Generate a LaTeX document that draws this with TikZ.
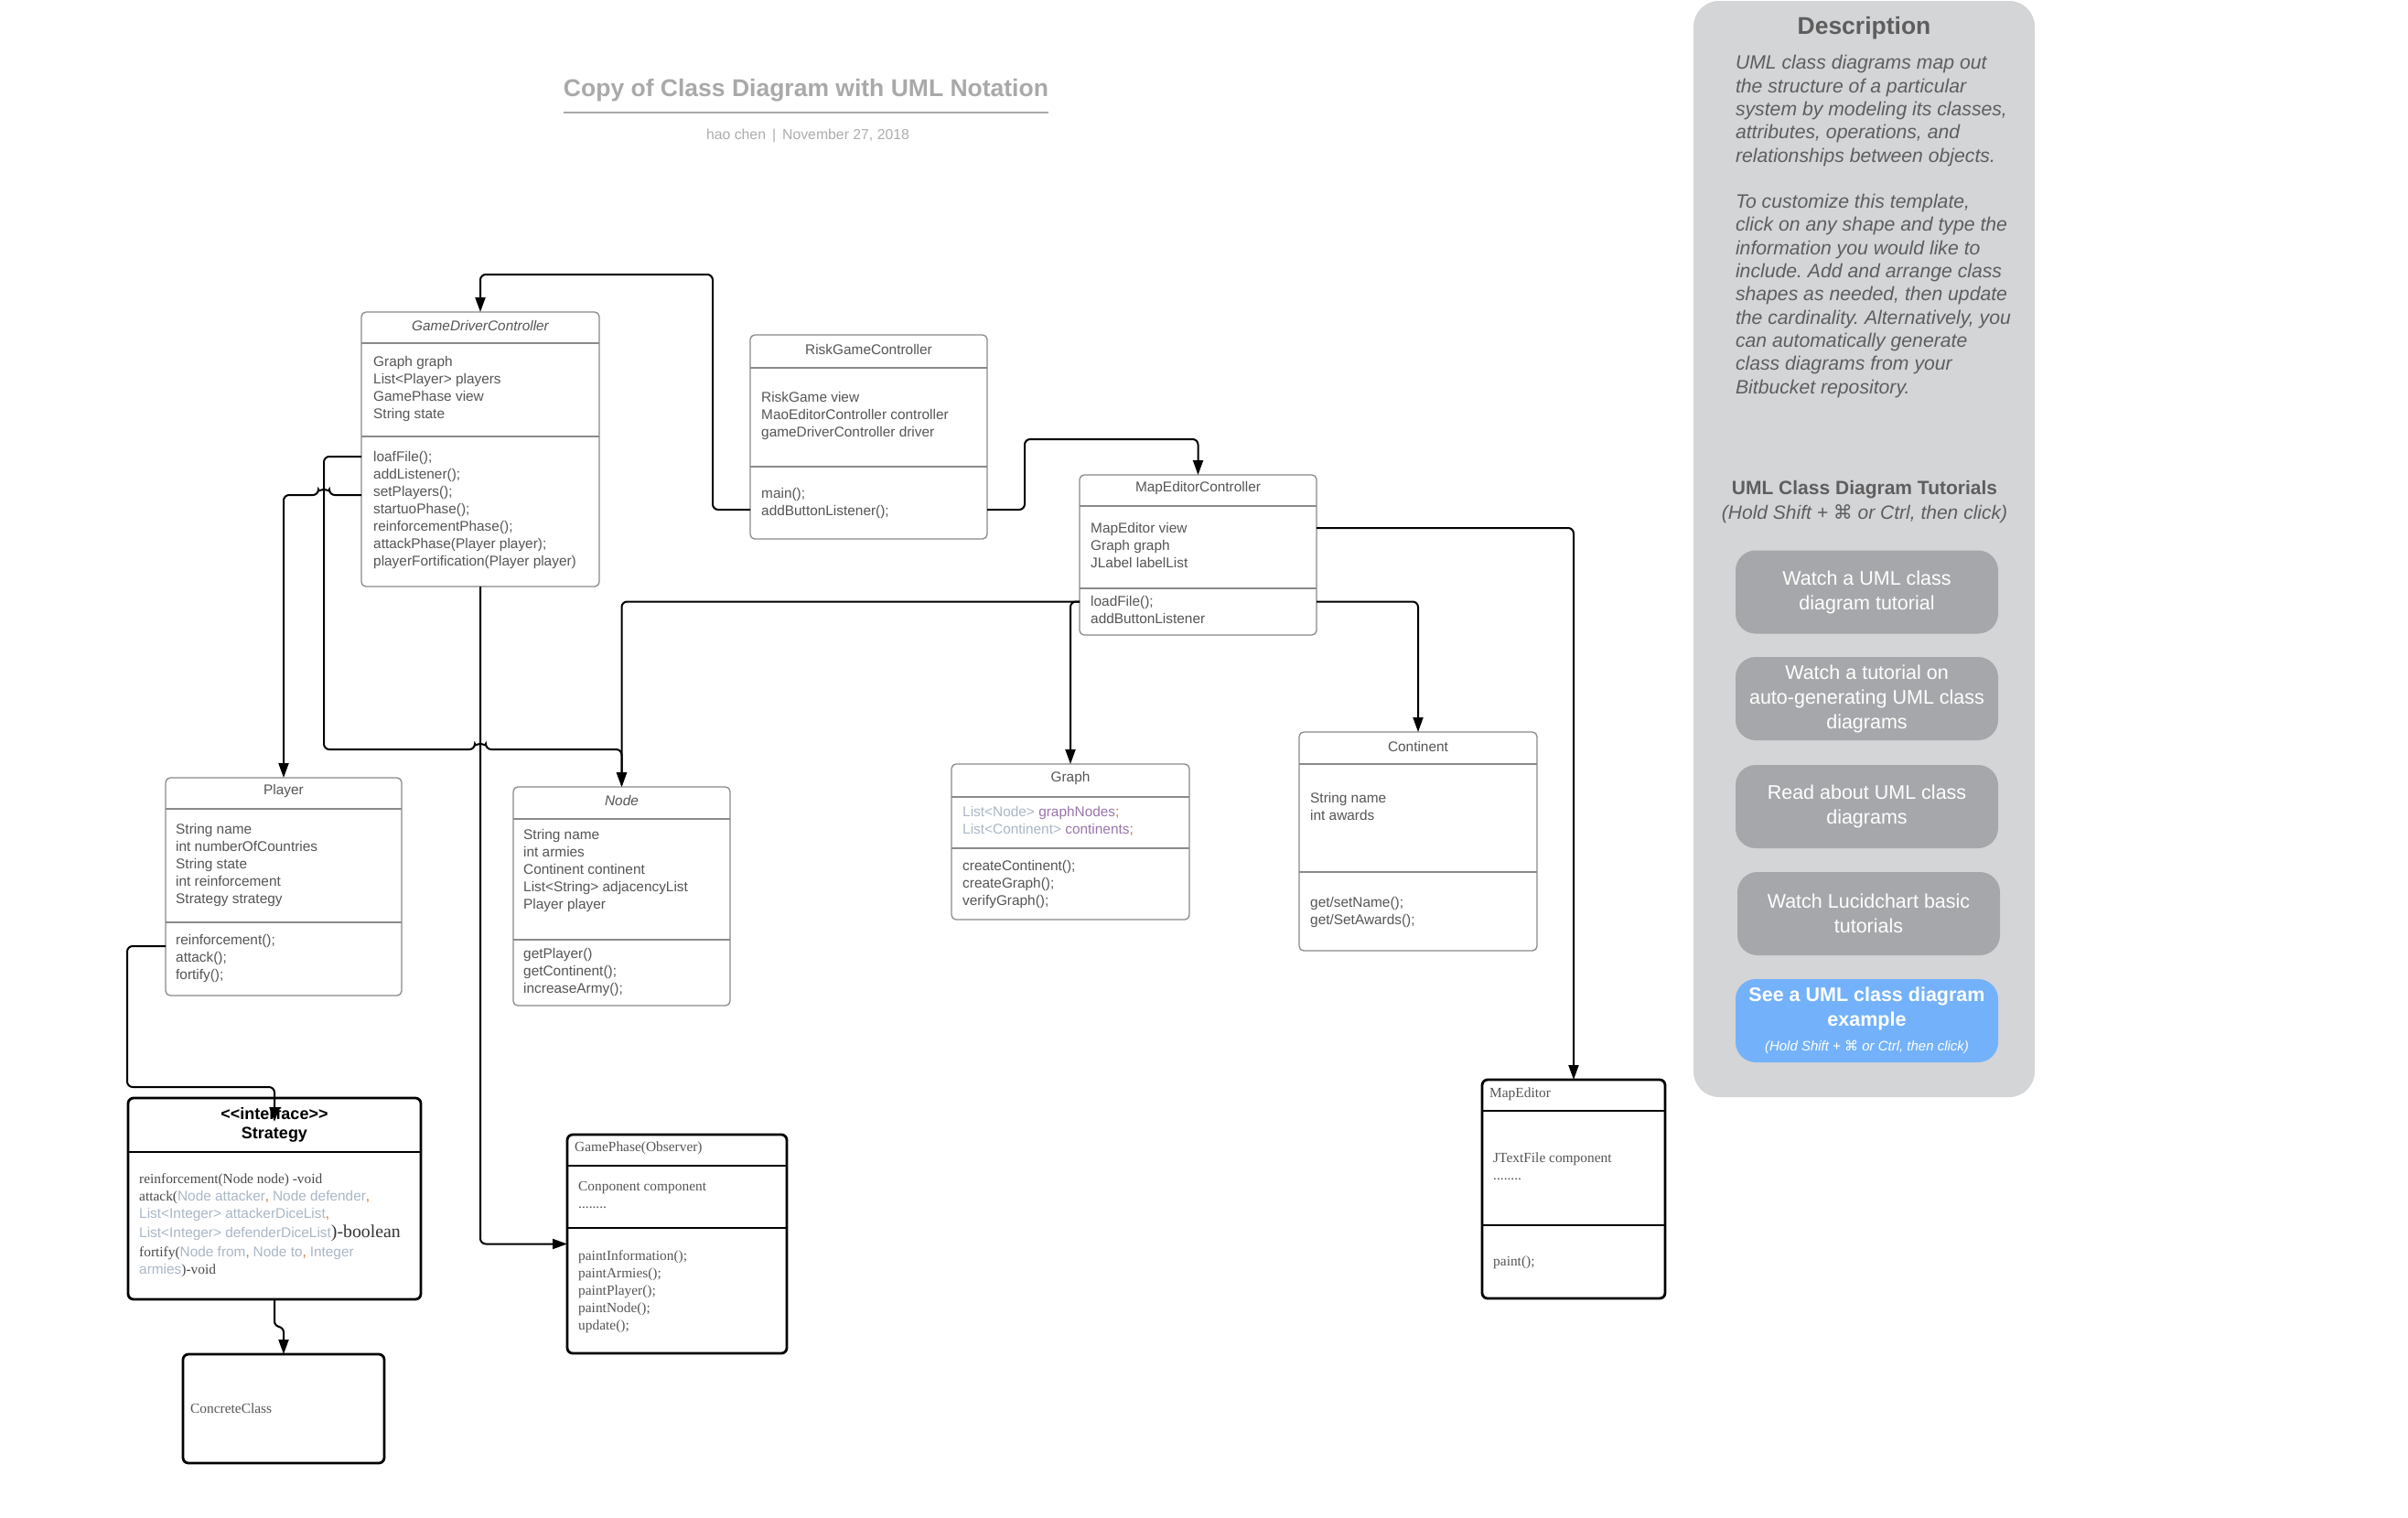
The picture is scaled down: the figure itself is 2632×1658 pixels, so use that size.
\documentclass[tikz,border=0pt]{standalone}
\usepackage{fontspec}
\setmainfont{Liberation Serif}
\setsansfont{Liberation Sans}
\newfontfamily\symfont{DejaVu Sans}
\usetikzlibrary{arrows.meta}
\usepackage{xcolor}
\definecolor{boxgray}{HTML}{8A8A8A}
\definecolor{txtgray}{HTML}{555555}
\definecolor{serifdark}{HTML}{4A4A4A}
\definecolor{serifdarker}{HTML}{333333}
\definecolor{titlegray}{HTML}{A9A9A9}
\definecolor{subgray}{HTML}{ADADAD}
\definecolor{panelgray}{HTML}{D4D5D7}
\definecolor{btngray}{HTML}{A6A7AA}
\definecolor{btnblue}{HTML}{73B2FA}
\definecolor{descgray}{HTML}{5E5E5E}
\definecolor{codelight}{HTML}{A9B7C6}
\definecolor{codepurple}{HTML}{9876AA}
\definecolor{codeorange}{HTML}{CC7832}
\newcommand{\fsz}[2]{\fontsize{#1}{#2}\selectfont}
\newcommand{\cmdkey}{{\symfont ⌘}}
\newcommand{\codelt}[1]{{\sffamily\color{codelight}#1}}
\newcommand{\codeor}[1]{{\sffamily\color{codeorange}#1}}
\newcommand{\codepu}[1]{{\sffamily\color{codepurple}#1}}
\frenchspacing

\begin{document}
\begin{tikzpicture}[x=1pt,y=-1pt,
  cls/.style={draw=boxgray, line width=1.3pt, rounded corners=5pt, fill=white, inner sep=0pt, outer sep=0pt},
  clsb/.style={draw=black, line width=2.8pt, rounded corners=6pt, fill=white, inner sep=0pt, outer sep=0pt},
  div/.style={draw=boxgray, line width=1.3pt},
  divb/.style={draw=black, line width=2.8pt},
  hdr/.style={font=\sffamily\fsz{15.4}{18.9}, text=txtgray, inner sep=0pt},
  txt/.style={font=\sffamily\fsz{15.4}{18.9}, text=txtgray, align=left, anchor=north west, inner sep=0pt},
  stxt/.style={txt, font=\rmfamily\fsz{15.4}{18.9}},
  strl/.style={font=\rmfamily\fsz{15.4}{18.9}, text=serifdark, anchor=base west, inner sep=0pt},
  conn/.style={draw=black, line width=2pt, rounded corners=6pt, -{Triangle[width=11pt,length=16pt]}},
  panel/.style={fill=panelgray, rounded corners=28pt, minimum width=373pt, minimum height=1198pt, inner sep=0pt},
  desc/.style={font=\sffamily\itshape\fsz{21.2}{25.3}, text=descgray, align=left, anchor=north west, inner sep=0pt},
  btn/.style={fill=btngray, rounded corners=22pt, minimum width=287pt, minimum height=91pt, text=white, font=\sffamily\fsz{21.5}{27}, align=center, inner sep=0pt}]

\fill[white] (0,0) rectangle (2632,1658);
\useasboundingbox (0,0) rectangle (2632,1658);

% title
\node[font=\sffamily\bfseries\fsz{26.5}{31}, text=titlegray, inner sep=0pt] (title) at (881,98.5) {Copy of Class Diagram with UML Notation};
\draw[draw=titlegray, line width=2pt] ([yshift=-11.7pt]title.south west) -- ([yshift=-11.7pt]title.south east);
\node[font=\sffamily\fsz{15.8}{19}, text=subgray, inner sep=0pt] (sub) at (883,148) {hao chen\hspace{7pt}|\hspace{7pt}November 27, 2018};

% classes
\node[cls, minimum width=260pt, minimum height=300pt] (gdc) at (525,491) {};
\draw[div] ([yshift=-34pt]gdc.north west) -- ([yshift=-34pt]gdc.north east);
\draw[div] ([yshift=-136pt]gdc.north west) -- ([yshift=-136pt]gdc.north east);
\node[hdr] (gdc-t) at ([yshift=-15pt]gdc.north) {\itshape GameDriverController};
\node[txt] (gdc-a) at ([xshift=13pt,yshift=-48.5pt]gdc.north west) {Graph graph\\List<Player> players\\GamePhase view\\String state};
\node[txt] (gdc-m) at ([xshift=13pt,yshift=-152.5pt]gdc.north west) {loafFile();\\addListener();\\setPlayers();\\startuoPhase();\\reinforcementPhase();\\attackPhase(Player player);\\playerFortification(Player player)};

\node[cls, minimum width=259pt, minimum height=223pt] (rgc) at (949.5,477.5) {};
\draw[div] ([yshift=-36pt]rgc.north west) -- ([yshift=-36pt]rgc.north east);
\draw[div] ([yshift=-144pt]rgc.north west) -- ([yshift=-144pt]rgc.north east);
\node[hdr] (rgc-t) at ([yshift=-16pt]rgc.north) {RiskGameController};
\node[txt] (rgc-a) at ([xshift=12pt,yshift=-62.5pt]rgc.north west) {RiskGame view\\MaoEditorController controller\\gameDriverController driver};
\node[txt] (rgc-m) at ([xshift=12pt,yshift=-167.5pt]rgc.north west) {main();\\addButtonListener();};

\node[cls, minimum width=259pt, minimum height=175pt] (mec) at (1309.5,606.5) {};
\draw[div] ([yshift=-34pt]mec.north west) -- ([yshift=-34pt]mec.north east);
\draw[div] ([yshift=-124pt]mec.north west) -- ([yshift=-124pt]mec.north east);
\node[hdr] (mec-t) at ([yshift=-15pt]mec.north) {MapEditorController};
\node[txt] (mec-a) at ([xshift=12pt,yshift=-52.5pt]mec.north west) {MapEditor view\\Graph graph\\JLabel labelList};
\node[txt] (mec-m) at ([xshift=12pt,yshift=-132.5pt]mec.north west) {loadFile();\\addButtonListener};

\node[cls, minimum width=258pt, minimum height=238pt] (plyr) at (310,969) {};
\draw[div] ([yshift=-34pt]plyr.north west) -- ([yshift=-34pt]plyr.north east);
\draw[div] ([yshift=-158pt]plyr.north west) -- ([yshift=-158pt]plyr.north east);
\node[hdr] (plyr-t) at ([yshift=-15pt]plyr.north) {Player};
\node[txt] (plyr-a) at ([xshift=11pt,yshift=-50.5pt]plyr.north west) {String name\\int numberOfCountries\\String state\\int reinforcement\\Strategy strategy};
\node[txt] (plyr-m) at ([xshift=11pt,yshift=-171.5pt]plyr.north west) {reinforcement();\\attack();\\fortify();};

\node[cls, minimum width=237pt, minimum height=239pt] (nodecl) at (679.5,979.5) {};
\draw[div] ([yshift=-35pt]nodecl.north west) -- ([yshift=-35pt]nodecl.north east);
\draw[div] ([yshift=-167pt]nodecl.north west) -- ([yshift=-167pt]nodecl.north east);
\node[hdr] (nodecl-t) at ([yshift=-15pt]nodecl.north) {\itshape Node};
\node[txt] (nodecl-a) at ([xshift=11pt,yshift=-46.5pt]nodecl.north west) {String name\\int armies\\Continent continent\\List<String> adjacencyList\\Player player};
\node[txt] (nodecl-m) at ([xshift=11pt,yshift=-176.5pt]nodecl.north west) {getPlayer()\\getContinent();\\increaseArmy();};

\node[cls, minimum width=260pt, minimum height=170pt] (graph) at (1170,920) {};
\draw[div] ([yshift=-36pt]graph.north west) -- ([yshift=-36pt]graph.north east);
\draw[div] ([yshift=-92pt]graph.north west) -- ([yshift=-92pt]graph.north east);
\node[hdr] (graph-t) at ([yshift=-16pt]graph.north) {Graph};
\node[txt] (graph-a) at ([xshift=12pt,yshift=-46.5pt]graph.north west) {\codelt{List<Node>} \codepu{graphNodes}\codeor{;}\\\codelt{List<Continent>} \codepu{continents}\codeor{;}};
\node[txt] (graph-m) at ([xshift=12pt,yshift=-105.5pt]graph.north west) {createContinent();\\createGraph();\\verifyGraph();};

\node[cls, minimum width=260pt, minimum height=239pt] (cont) at (1550,919.5) {};
\draw[div] ([yshift=-35pt]cont.north west) -- ([yshift=-35pt]cont.north east);
\draw[div] ([yshift=-153pt]cont.north west) -- ([yshift=-153pt]cont.north east);
\node[hdr] (cont-t) at ([yshift=-16pt]cont.north) {Continent};
\node[txt] (cont-a) at ([xshift=12pt,yshift=-66.5pt]cont.north west) {String name\\int awards};
\node[txt] (cont-m) at ([xshift=12pt,yshift=-180.5pt]cont.north west) {get/setName();\\get/SetAwards();};

\node[clsb, minimum width=320pt, minimum height=220pt] (strat) at (300,1310) {};
\draw[divb] ([yshift=-59pt]strat.north west) -- ([yshift=-59pt]strat.north east);
\node[font=\sffamily\bfseries\fsz{18}{21}, align=center, inner sep=0pt] (strat-t) at ([yshift=-29pt]strat.north) {<\kern0pt<interface>\kern0pt>\\Strategy};
\node[strl] (strat-m1) at ([xshift=12pt,yshift=-93pt]strat.north west) {reinforcement(Node node) -void};
\node[strl] (strat-m2) at ([xshift=12pt,yshift=-112pt]strat.north west) {attack(\codelt{Node attacker}\codeor{,} \codelt{Node defender}\codeor{,}};
\node[strl] (strat-m3) at ([xshift=12pt,yshift=-131pt]strat.north west) {\codelt{List<Integer> attackerDiceList}\codeor{,}};
\node[strl] (strat-m4) at ([xshift=12pt,yshift=-152pt]strat.north west) {\codelt{List<Integer> defenderDiceList}{\fsz{19.8}{22}\color{serifdarker})-boolean}};
\node[strl] (strat-m5) at ([xshift=12pt,yshift=-173pt]strat.north west) {fortify(\codelt{Node from}\codeor{,} \codelt{Node to}\codeor{,} \codelt{Integer}};
\node[strl] (strat-m6) at ([xshift=12pt,yshift=-192pt]strat.north west) {\codelt{armies})-void};

\node[clsb, minimum width=220pt, minimum height=119pt] (concrete) at (310,1539.5) {};
\node[stxt, anchor=west] (concrete-t) at ([xshift=8pt]concrete.west) {ConcreteClass};

\node[clsb, minimum width=240pt, minimum height=239pt] (gphase) at (740,1359.5) {};
\draw[divb] ([yshift=-34pt]gphase.north west) -- ([yshift=-34pt]gphase.north east);
\draw[divb] ([yshift=-102pt]gphase.north west) -- ([yshift=-102pt]gphase.north east);
\node[stxt, anchor=west] (gphase-t) at ([xshift=8pt,yshift=-15pt]gphase.north west) {GamePhase(Observer)};
\node[stxt] (gphase-a) at ([xshift=12pt,yshift=-51.5pt]gphase.north west) {Conponent component\\........};
\node[stxt] (gphase-m) at ([xshift=12pt,yshift=-126.5pt]gphase.north west) {paintInformation();\\paintArmies();\\paintPlayer();\\paintNode();\\update();};

\node[clsb, minimum width=200pt, minimum height=239pt] (medit) at (1720,1299.5) {};
\draw[divb] ([yshift=-34pt]medit.north west) -- ([yshift=-34pt]medit.north east);
\draw[divb] ([yshift=-159pt]medit.north west) -- ([yshift=-159pt]medit.north east);
\node[stxt, anchor=west] (medit-t) at ([xshift=8pt,yshift=-16pt]medit.north west) {MapEditor};
\node[stxt] (medit-a) at ([xshift=12pt,yshift=-79.5pt]medit.north west) {JTextFile component\\........};
\node[stxt] (medit-m) at ([xshift=12pt,yshift=-192.5pt]medit.north west) {paint();};

% connectors
\draw[conn] ([yshift=-79.5pt]rgc.west) -- ++(-41,0) |- ([yshift=41pt]gdc.north) -- (gdc.north);
\draw[conn] ([yshift=-79.5pt]rgc.east) -- ++(41,0) |- ([yshift=39pt]mec.north) -- (mec.north);
\draw[conn] ([yshift=29.5pt]mec.east) -| (medit.north);
\draw[conn] ([yshift=-51pt]mec.east) -| (cont.north);
\draw[conn] ([yshift=-51pt]mec.west) -| (graph.north);
\draw[conn] ([yshift=-51pt]mec.west) -| (nodecl.north);
\draw[conn] ([yshift=-8pt]gdc.west) -- ++(-41,0) -- ++(0,320) -- ++(165,0) arc[start angle=180, end angle=360, radius=6] -| (nodecl.north);
\draw[conn] ([yshift=-50pt]gdc.west) -- ++(-35,0) arc[start angle=0, end angle=-180, radius=6] -| (plyr.north);
\draw[conn] (gdc.south) |- (gphase.west);
\draw[conn] ([yshift=-65pt]plyr.west) -- ++(-42,0) -- ++(0,154) -| ([yshift=-26pt]strat.north);
\draw[conn] (strat.south) -- ++(0,30) -| (concrete.north);

% description panel
\node[panel] (panel) at (2037.5,600) {};
\node[font=\sffamily\bfseries\fsz{26.5}{30}, text=descgray, inner sep=0pt] (desc-t) at ([yshift=-30pt]panel.north) {Description};
\node[desc] (desc-b) at ([xshift=46pt,yshift=-59.5pt]panel.north west) {UML class diagrams map out\\the structure of a particular\\system by modeling its classes,\\attributes, operations, and\\relationships between objects.\\[25.3pt]To customize this template,\\click on any shape and type the\\information you would like to\\include. Add and arrange class\\shapes as needed, then update\\the cardinality. Alternatively, you\\can automatically generate\\class diagrams from your\\Bitbucket repository.};
\node[font=\sffamily\fsz{21}{27}, text=descgray, align=center, inner sep=0pt] (tut) at (2038,549) {{\bfseries UML Class Diagram Tutorials}\\{\itshape (Hold Shift + \cmdkey{} or Ctrl, then click)}};
\node[btn] (b1) at (2040.5,647) {Watch a UML class\\diagram tutorial};
\node[btn] (b2) at (2040.5,763.5) {Watch a tutorial on\\auto-generating UML class\\diagrams};
\node[btn] (b3) at (2040.5,881.5) {Read about UML class\\diagrams};
\node[btn] (b4) at (2042.5,998.5) {Watch Lucidchart basic\\tutorials};
\node[btn, fill=btnblue] (b5) at (2040.5,1115.5) {{\bfseries See a UML class diagram}\\{\bfseries example}\\{\itshape\fsz{15}{18}(Hold Shift + \cmdkey{} or Ctrl, then click)}};

\end{tikzpicture}
\end{document}
